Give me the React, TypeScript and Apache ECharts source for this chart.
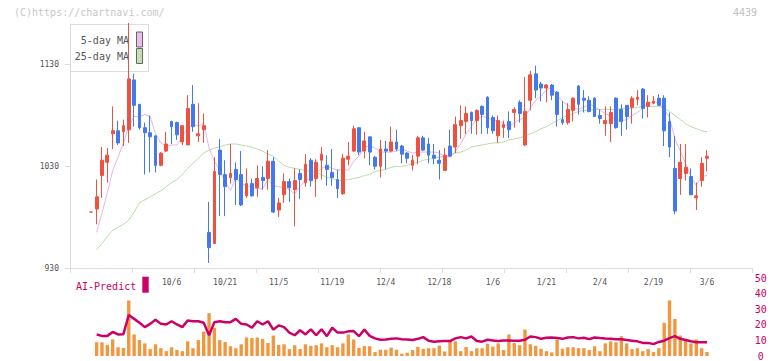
import React, { useEffect, useRef } from "react";
import * as echarts from "echarts";

const MONO = '"DejaVu Sans Mono", monospace';
const RED = "#ef5140";
const BLUE = "#4479ee";
const ORANGE = "#f1973f";
const CRIMSON = "#cc0066";
const PINK = "#e8b4e8";
const GREEN = "#b8dcaa";

// daily candles (oldest -> newest)
const opens = [985, 988, 1021, 1034, 1062, 1065, 1064, 1066, 1115, 1091, 1068, 1063, 1060, 1031, 1045, 1074, 1073, 1054, 1051, 1091, 1060, 1066, 965, 954, 1046, 1022, 1019, 1027, 1022, 1001, 1013, 1009, 1019, 1018, 1035, 987, 1002, 1015, 1007, 1023, 1014, 1036, 1018, 1036, 1031, 1024, 1017, 1003, 1037, 1045, 1068, 1045, 1059, 1039, 1030, 1047, 1045, 1054, 1050, 1043, 1031, 1040, 1058, 1052, 1041, 1036, 1026, 1050, 1049, 1070, 1074, 1083, 1075, 1089, 1098, 1078, 1060, 1068, 1074, 1083, 1093, 1051, 1095, 1121, 1111, 1107, 1110, 1103, 1076, 1073, 1085, 1109, 1097, 1095, 1097, 1080, 1072, 1072, 1097, 1086, 1090, 1088, 1096, 1106, 1089, 1092, 1097, 1097, 1074, 1028, 1018, 1023, 1020, 999, 1016, 1038];
const closes = [985, 1000, 1036, 1041, 1065, 1053, 1070, 1116, 1090, 1068, 1063, 1059, 1031, 1043, 1052, 1069, 1061, 1070, 1087, 1069, 1062, 1070, 950, 1025, 1022, 1010, 1023, 1017, 992, 1013, 1001, 1018, 1016, 1035, 985, 994, 1015, 1009, 1016, 1017, 1032, 1016, 1034, 1042, 1027, 1019, 1008, 1038, 1040, 1067, 1044, 1055, 1044, 1030, 1047, 1045, 1054, 1047, 1042, 1038, 1036, 1058, 1046, 1041, 1038, 1033, 1041, 1040, 1071, 1075, 1082, 1075, 1085, 1081, 1068, 1065, 1075, 1071, 1066, 1086, 1082, 1084, 1120, 1105, 1107, 1110, 1100, 1081, 1073, 1086, 1097, 1091, 1095, 1084, 1079, 1077, 1075, 1083, 1068, 1074, 1079, 1097, 1098, 1087, 1093, 1094, 1090, 1065, 1049, 986, 1034, 1029, 1002, 1001, 1033, 1040];
const lows = [985, 973, 999, 1014, 1047, 1051, 1050, 1053, 1069, 1066, 1022, 1024, 1024, 1030, 1044, 1052, 1056, 1051, 1051, 1064, 1054, 1053, 935, 954, 981, 981, 1013, 992, 991, 999, 1000, 1000, 1007, 1007, 984, 980, 994, 995, 971, 998, 1010, 1010, 1000, 1017, 1011, 1011, 999, 1002, 1031, 1044, 1041, 1038, 1031, 1027, 1019, 1027, 1044, 1045, 1033, 1033, 1026, 1032, 1045, 1033, 1032, 1017, 1026, 1040, 1043, 1057, 1062, 1062, 1061, 1062, 1062, 1062, 1053, 1058, 1058, 1068, 1073, 1050, 1085, 1097, 1094, 1093, 1095, 1069, 1071, 1071, 1074, 1081, 1083, 1083, 1079, 1072, 1060, 1054, 1067, 1060, 1066, 1072, 1090, 1077, 1078, 1091, 1090, 1050, 1039, 983, 1002, 1016, 1002, 987, 1010, 1025];
const highs = [985, 1017, 1049, 1048, 1089, 1075, 1076, 1171, 1121, 1091, 1073, 1080, 1060, 1044, 1064, 1075, 1074, 1070, 1100, 1110, 1092, 1082, 995, 1039, 1057, 1036, 1052, 1034, 1045, 1028, 1018, 1031, 1030, 1046, 1039, 999, 1023, 1018, 1028, 1027, 1042, 1038, 1037, 1049, 1041, 1047, 1027, 1042, 1054, 1070, 1068, 1064, 1059, 1040, 1056, 1055, 1069, 1066, 1051, 1044, 1041, 1060, 1060, 1058, 1052, 1046, 1048, 1066, 1079, 1090, 1089, 1084, 1086, 1090, 1099, 1080, 1080, 1075, 1084, 1088, 1095, 1118, 1124, 1129, 1113, 1111, 1111, 1104, 1094, 1092, 1098, 1110, 1105, 1099, 1098, 1086, 1089, 1089, 1098, 1091, 1090, 1099, 1105, 1107, 1100, 1099, 1101, 1100, 1083, 1060, 1052, 1052, 1028, 1014, 1039, 1046];

// moving averages
const ma5 = [null, 965, 984, 1004, 1026, 1039, 1053, 1069, 1079, 1079, 1081, 1079, 1062, 1053, 1050, 1051, 1051, 1059, 1068, 1071, 1070, 1072, 1048, 1035, 1026, 1015, 1006, 1019, 1013, 1011, 1009, 1008, 1008, 1017, 1011, 1010, 1009, 1007, 1003, 1010, 1017, 1018, 1023, 1028, 1030, 1028, 1026, 1027, 1026, 1035, 1040, 1049, 1050, 1048, 1044, 1044, 1044, 1045, 1047, 1045, 1043, 1044, 1044, 1044, 1044, 1043, 1040, 1039, 1045, 1052, 1062, 1069, 1077, 1079, 1078, 1075, 1075, 1072, 1069, 1073, 1076, 1078, 1088, 1095, 1099, 1105, 1108, 1100, 1094, 1090, 1087, 1086, 1088, 1091, 1089, 1085, 1082, 1079, 1076, 1075, 1076, 1080, 1083, 1087, 1091, 1094, 1092, 1086, 1078, 1057, 1045, 1033, 1020, 1011, 1020, 1021];
const ma25 = [null, 948, 954, 961, 967, 970, 973, 977, 985, 994, 997, 1000, 1003, 1006, 1010, 1014, 1017, 1022, 1028, 1033, 1038, 1043, 1046, 1048, 1049, 1051, 1052, 1052, 1051, 1050, 1049, 1047, 1045, 1042, 1040, 1035, 1031, 1029, 1028, 1027, 1026, 1025, 1024, 1022, 1019, 1018, 1016, 1016, 1017, 1018, 1019, 1021, 1022, 1025, 1026, 1027, 1029, 1030, 1030, 1031, 1033, 1034, 1036, 1037, 1038, 1039, 1040, 1041, 1043, 1044, 1046, 1049, 1050, 1051, 1052, 1053, 1053, 1054, 1056, 1057, 1058, 1060, 1062, 1064, 1067, 1069, 1072, 1075, 1078, 1080, 1082, 1084, 1085, 1085, 1086, 1086, 1086, 1086, 1086, 1087, 1087, 1087, 1088, 1089, 1089, 1089, 1089, 1087, 1084, 1080, 1076, 1072, 1069, 1067, 1065, 1064];

// lower panel
const volume = [null, 8.8, 8.8, 7.1, 10.6, 5.6, 5.2, 35.6, 13.8, 10.2, 8.1, 4.4, 7.5, 5, 3.1, 5.6, 3.8, 3.1, 9.4, 5, 10.2, 15.6, 27.5, 18.1, 10.2, 9, 6.3, 5, 7.5, 11.9, 11.5, 11.9, 11, 8.3, 13.1, 7.1, 7.5, 4.4, 6.9, 4.4, 7.5, 6.5, 6.9, 8.1, 5.6, 6.9, 5.6, 8.1, 13.8, 10.6, 5.2, 6.3, 6.3, 2.5, 4, 4, 5.4, 4, 1.5, 2.1, 3.8, 5.8, 4.6, 5, 5, 6.7, 2.9, 10.2, 9.4, 3.1, 5.8, 3.1, 5, 5, 7.9, 6, 8.1, 3.8, 13.8, 8.3, 6.9, 16.9, 7.5, 6.5, 4.6, 3.1, 2.3, 10.4, 4.6, 5.6, 5.6, 5, 5, 3.8, 6.3, 3.1, 8.1, 9.4, 8.8, 12.7, 8.1, 4.4, 5, 3.1, 4.4, 2.5, 5, 21.3, 35.6, 23.8, 13.1, 10.2, 8.1, 10.6, 5, 2.5];
const aiPredict = [null, 13.8, 12.9, 12.9, 15.4, 13.8, 14, 26.3, 23.8, 21.3, 18.5, 20.6, 23.3, 20.6, 20.2, 22.3, 20.2, 18.5, 22.7, 22.3, 22.3, 21.3, 13.3, 21.7, 22.3, 21.7, 21.7, 23.8, 20.6, 20.2, 18.1, 22.3, 20.2, 22.3, 16.9, 19.6, 18.5, 15, 13.3, 16.5, 13.8, 17.1, 13.3, 17.1, 12.7, 18.1, 15, 15, 15.8, 16, 12.7, 16.9, 12.9, 11.3, 10.4, 10.6, 11, 11.3, 10.8, 10.6, 10.2, 11, 12.1, 9.8, 9.2, 9.4, 9.6, 9.6, 11.3, 12.1, 11.3, 12.5, 9.6, 9.2, 10.4, 10, 9.6, 10, 10, 9.8, 9.8, 10.4, 12.5, 12.1, 11, 11.7, 11.9, 11.5, 11, 11.9, 12.1, 11.3, 11.7, 10.8, 11.9, 11.5, 11.2, 11, 10.8, 10.8, 10.2, 9.8, 9.4, 8.4, 8.4, 7.6, 9, 9.8, 11.5, 12.7, 11, 10.2, 9.4, 8.8, 8.8, 8.8];

const dateLabels = ["10/6", "10/21", "11/5", "11/19", "12/4", "12/18", "1/6", "1/21", "2/4", "2/19", "3/6"];
const priceTicks = [930, 1030, 1130];

export default function App() {
  const ref = useRef<HTMLDivElement>(null);
  useEffect(() => {
    if (!ref.current) return;
    const chart = echarts.init(ref.current, null, { renderer: "svg" });
    const n = closes.length;
    const cats = closes.map(() => "");
    dateLabels.forEach((d, k) => {
      const idx = n - 1 - (dateLabels.length - 1 - k) * 10;
      if (idx >= 0) cats[idx] = d;
    });
    const candles = closes.map((c, i) => [opens[i], c, lows[i], highs[i]]);
    const axisGray = "#dcdcdc";
    const cLeft = 88.6;
    const cWidth = 621.1;
    const option: any = {
      animation: false,
      backgroundColor: "#ffffff",
      textStyle: { fontFamily: MONO },
      grid: [
        { left: 70, right: 20, top: 24, height: 244 },
        { left: cLeft, width: cWidth, top: 24, height: 244 },
        { left: cLeft, width: cWidth, top: 278, height: 80 },
      ],
      xAxis: [
        {
          type: "value", gridIndex: 0, min: 0, max: 11, interval: 1,
          axisLine: { show: true, onZero: false, lineStyle: { color: axisGray } },
          axisTick: { show: true, length: 5, lineStyle: { color: axisGray } },
          axisLabel: { show: false }, splitLine: { show: false },
        },
        {
          type: "category", gridIndex: 1, data: cats, boundaryGap: true,
          axisLine: { show: false }, axisTick: { show: false },
          axisLabel: { interval: 0, margin: 10, fontSize: 8, lineHeight: 8, color: "#555", fontFamily: MONO },
          splitLine: { show: false },
        },
        { type: "category", gridIndex: 2, data: cats, boundaryGap: true, show: false },
      ],
      yAxis: [
        {
          type: "value", gridIndex: 0, min: 930, max: 1170,
          axisLine: { show: true, onZero: false, lineStyle: { color: axisGray } },
          axisTick: { show: true, length: 5, customValues: priceTicks, lineStyle: { color: axisGray } },
          axisLabel: { customValues: priceTicks, formatter: (v: number) => String(v), fontSize: 8, color: "#555", margin: 11, fontFamily: MONO },
          splitLine: { show: false },
        },
        { type: "value", gridIndex: 1, min: 930, max: 1170, show: false },
        {
          type: "value", gridIndex: 2, min: 0, max: 50, interval: 10, position: "right",
          axisLine: { show: false }, axisTick: { show: false }, splitLine: { show: false },
          axisLabel: { color: CRIMSON, fontSize: 10, align: "center", margin: 51, fontFamily: MONO },
        },
      ],
      series: [
        { type: "line", xAxisIndex: 1, yAxisIndex: 1, data: ma25, symbol: "none", lineStyle: { color: GREEN, width: 1 }, z: 1 },
        { type: "line", xAxisIndex: 1, yAxisIndex: 1, data: ma5, symbol: "none", lineStyle: { color: PINK, width: 1 }, z: 1 },
        {
          type: "candlestick", xAxisIndex: 1, yAxisIndex: 1, data: candles, barWidth: 3.3, clip: false, z: 3,
          itemStyle: { color: RED, color0: BLUE, borderColor: RED, borderColor0: BLUE, borderWidth: 1 },
        },
        { type: "bar", xAxisIndex: 2, yAxisIndex: 2, data: volume, barWidth: 3.4, itemStyle: { color: ORANGE }, z: 2 },
        { type: "line", xAxisIndex: 2, yAxisIndex: 2, data: aiPredict, symbol: "none", lineStyle: { color: CRIMSON, width: 2.5 }, z: 4 },
      ],
      graphic: [
        { type: "text", x: 14, y: 12, style: { text: "(C)https://chartnavi.com/", fill: "#c8c8c8", font: `10px ${MONO}`, align: "left", textAlign: "left", verticalAlign: "middle", textVerticalAlign: "middle" } },
        { type: "text", x: 757, y: 12, style: { text: "4439", fill: "#c0c0c0", font: `10px ${MONO}`, align: "right", textAlign: "right", verticalAlign: "middle", textVerticalAlign: "middle" } },
        { type: "rect", shape: { x: 70.5, y: 24.5, width: 78, height: 47 }, style: { fill: "#ffffff", stroke: "#dddddd", lineWidth: 1 } },
        { type: "text", x: 129, y: 40, style: { text: "5-day MA", fill: "#555", font: `10px ${MONO}`, align: "right", textAlign: "right", verticalAlign: "middle", textVerticalAlign: "middle" } },
        { type: "text", x: 129, y: 56.5, style: { text: "25-day MA", fill: "#555", font: `10px ${MONO}`, align: "right", textAlign: "right", verticalAlign: "middle", textVerticalAlign: "middle" } },
        { type: "rect", shape: { x: 136.5, y: 32, width: 6, height: 15 }, style: { fill: "#ecbcec", stroke: "#666", lineWidth: 1 } },
        { type: "rect", shape: { x: 136.5, y: 48.5, width: 6, height: 15 }, style: { fill: "#c2e0b2", stroke: "#666", lineWidth: 1 } },
        { type: "text", x: 76, y: 286, style: { text: "AI-Predict", fill: CRIMSON, font: `10px ${MONO}`, align: "left", textAlign: "left", verticalAlign: "middle", textVerticalAlign: "middle" } },
        { type: "rect", shape: { x: 142.3, y: 276.7, width: 6.4, height: 16 }, style: { fill: CRIMSON } },
      ],
    };
    chart.setOption(option);
    return () => chart.dispose();
  }, []);
  return <div ref={ref} style={{ position: "fixed", left: 0, top: 0, width: 772, height: 361 }} />;
}
